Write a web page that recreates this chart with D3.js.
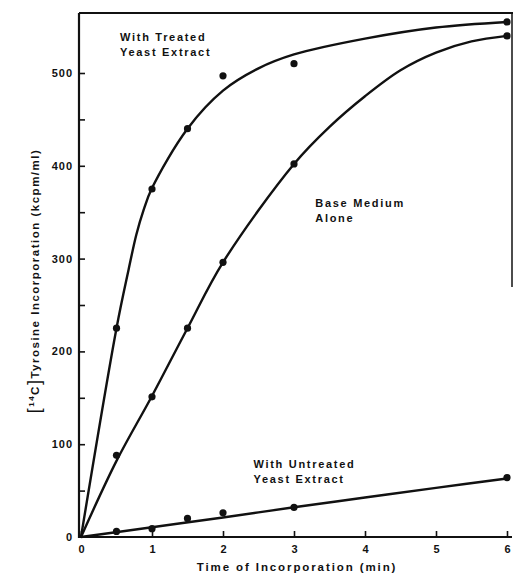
<!DOCTYPE html>
<html><head><meta charset="utf-8">
<script src="https://cdn.jsdelivr.net/npm/d3@7"></script>
<style>
body{margin:0;background:#fff;}
svg{display:block;}
text{font-family:"Liberation Sans",Arial,sans-serif;font-weight:bold;fill:#111;}
</style></head><body>
<svg id="c" width="514" height="574"></svg>
<script>
// ---- data ----
const times = [0, 0.5, 1, 1.5, 2, 3, 6];
const treatedPts = [0, 225, 375, 440, 497, 510, 555];
const basePts = [0, 88, 151, 225, 296, 402, 540];
const untreatedPts = [0, 6, 9, 20, 26, 32, 64];

// smooth fitted curves as drawn (knot time, value)
const treatedCurveT = [0, 0.5, 0.67, 0.78, 0.88, 1, 1.5, 2, 2.5, 3, 4, 5, 6];
const treatedCurveV = [0, 225, 288, 326, 352, 376, 440, 481, 505, 520, 537, 549, 555];
const baseCurveT = [0, 0.5, 1, 1.5, 2, 3, 3.5, 4, 4.5, 5, 5.5, 6];
const baseCurveV = [0, 82, 152, 225, 296, 402, 442, 475, 503, 522, 534, 540];
const untreatedCurveT = [0, 1, 2, 3, 4, 5, 6];
const untreatedCurveV = [0, 10.5, 21, 32, 42.5, 53, 63];

const xTicks = [0, 1, 2, 3, 4, 5, 6];
const yLabelTicks = [0, 100, 200, 300, 400, 500];
const yMinorTicks = [50, 100, 150, 200, 250, 300, 350, 400, 450, 500];

const labels = [
  {lines: ["With Treated", "Yeast Extract"], t: 0.55, v: 535},
  {lines: ["Base Medium", "Alone"], t: 3.3, v: 356},
  {lines: ["With Untreated", "Yeast Extract"], t: 2.43, v: 74}
];

// ---- drawing ----
const svg = d3.select("#c");
const x = d3.scaleLinear().domain([0, 6]).range([81, 507]);
const y = d3.scaleLinear().domain([0, 500]).range([537, 73]);
const frameTop = 13, frameRight = 512, rightBorderBottom = 287;

const ink = "#111";

// frame
svg.append("line").attr("x1", x(0) - 2).attr("x2", frameRight + 1).attr("y1", frameTop).attr("y2", frameTop)
  .attr("stroke", ink).attr("stroke-width", 2);
svg.append("line").attr("x1", frameRight).attr("x2", frameRight).attr("y1", frameTop).attr("y2", rightBorderBottom)
  .attr("stroke", ink).attr("stroke-width", 1.5);

// axes
const xAxis = d3.axisBottom(x).tickValues(xTicks).tickSize(-6).tickPadding(10).tickFormat(d3.format("d"));
const gx = svg.append("g").attr("transform", `translate(0,${y(0)})`).call(xAxis);
gx.select(".domain").attr("d", `M${x(0) - 2},0H${frameRight}`).attr("stroke", ink).attr("stroke-width", 2.2);
gx.selectAll(".tick line").attr("stroke", ink).attr("stroke-width", 1.6);
gx.selectAll(".tick text").attr("font-size", 11).attr("font-family", "Liberation Sans, Arial, sans-serif")
  .attr("font-weight", "bold").attr("fill", ink).attr("dy", "0.55em");

const yAxis = d3.axisLeft(y).tickValues(yMinorTicks).tickSize(-6).tickFormat("");
const gy = svg.append("g").attr("transform", `translate(${x(0) - 2},0)`).call(yAxis);
gy.select(".domain").attr("d", `M0,${y(0) + 1}V${frameTop}`).attr("stroke", ink).attr("stroke-width", 2.2);
gy.selectAll(".tick line").attr("stroke", ink).attr("stroke-width", 1.6);

// y tick labels
svg.append("g").selectAll("text").data(yLabelTicks).join("text")
  .attr("x", 73).attr("y", d => y(d)).attr("dy", "0.36em")
  .attr("text-anchor", "end").attr("font-size", 11).attr("letter-spacing", 1)
  .text(d => d);

// curves
const line = d3.line().x(d => x(d[0])).y(d => y(d[1])).curve(d3.curveCatmullRom.alpha(0.5));
const curves = [
  d3.zip(treatedCurveT, treatedCurveV),
  d3.zip(baseCurveT, baseCurveV),
  d3.zip(untreatedCurveT, untreatedCurveV)
];
svg.append("g").selectAll("path").data(curves).join("path")
  .attr("d", line).attr("fill", "none").attr("stroke", ink).attr("stroke-width", 2.4)
  .attr("stroke-linejoin", "round");

// points
const series = [treatedPts, basePts, untreatedPts];
series.forEach(vals => {
  svg.append("g").selectAll("circle").data(d3.zip(times, vals).slice(1)).join("circle")
    .attr("cx", d => x(d[0])).attr("cy", d => y(d[1])).attr("r", 3.6).attr("fill", ink);
});

// in-plot labels
labels.forEach(l => {
  const t = svg.append("text").attr("x", x(l.t)).attr("y", y(l.v))
    .attr("font-size", 11).attr("letter-spacing", 1.7);
  l.lines.forEach((s, i) => t.append("tspan").attr("x", x(l.t)).attr("dy", i ? 15 : 0).text(s));
});

// x axis title
svg.append("text").attr("x", 297).attr("y", 571).attr("text-anchor", "middle")
  .attr("font-size", 11.5).attr("letter-spacing", 1.9).text("Time of Incorporation (min)");

// y axis title
const yt = svg.append("text").attr("transform", "translate(39,281) rotate(-90)")
  .attr("text-anchor", "middle").attr("font-size", 11.5).attr("letter-spacing", 1.5);
yt.append("tspan").attr("font-size", 18).attr("font-weight", "normal").attr("dy", 1).text("[");
yt.append("tspan").attr("font-size", 8).attr("dy", -6).text("14");
yt.append("tspan").attr("dy", 5).text("C");
yt.append("tspan").attr("font-size", 18).attr("font-weight", "normal").attr("dy", 1).text("]");
yt.append("tspan").attr("dy", -1).text("Tyrosine Incorporation (kcpm/ml)");
</script>
</body></html>
